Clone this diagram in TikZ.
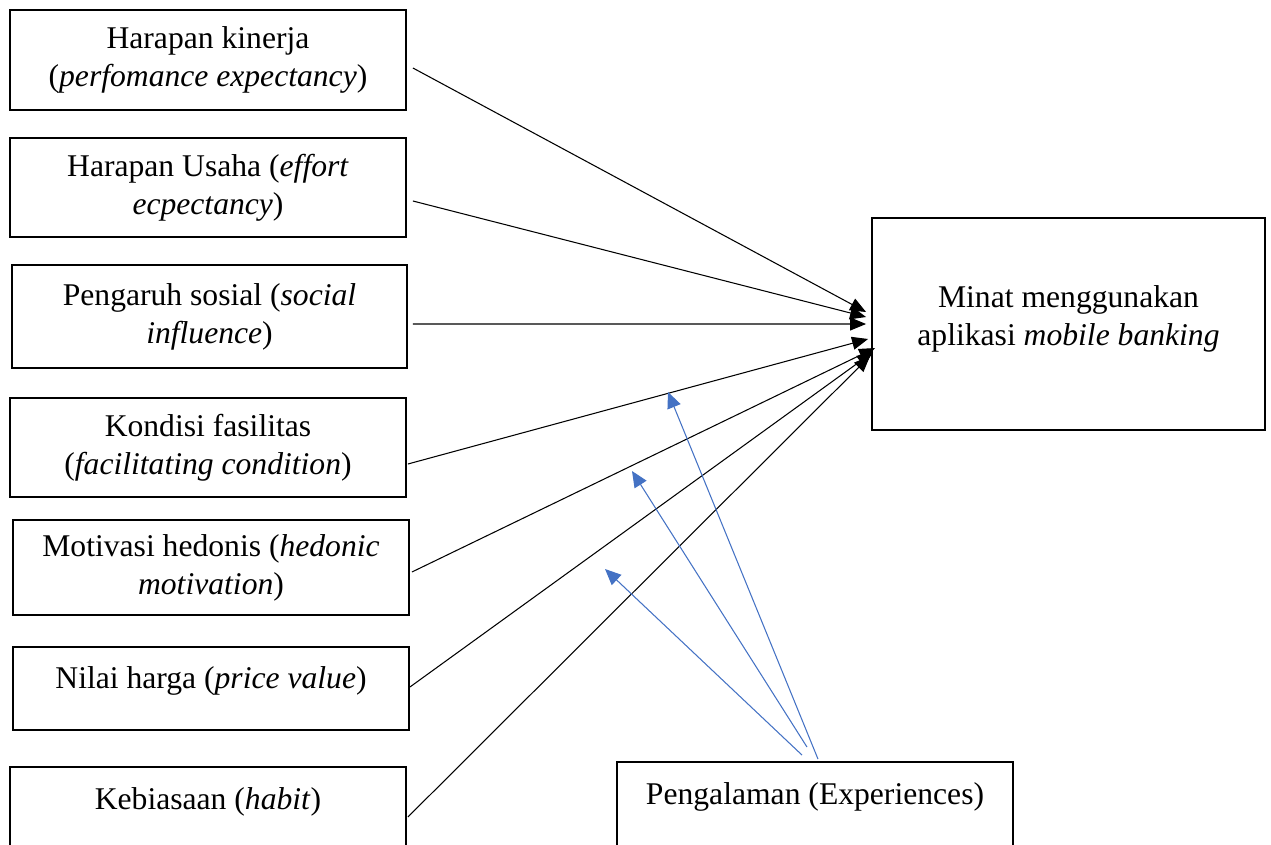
\documentclass[tikz,border=0pt]{standalone}
\usepackage{fontspec}
\setmainfont{Liberation Serif}
\usetikzlibrary{arrows.meta,calc}

\tikzset{
  varbox/.style={draw, line width=1.1pt, minimum width=7.92cm, align=center,
    font=\fontsize{18}{21.6}\selectfont, inner sep=2pt},
  blackarr/.style={line width=0.6pt, -{Triangle[length=0.32cm,width=0.26cm]}},
  bluearr/.style={line width=0.6pt, draw=expblue, -{Triangle[length=0.32cm,width=0.28cm]}}
}
\definecolor{expblue}{RGB}{68,114,196}

\begin{document}
\begin{tikzpicture}[x=0.02cm,y=-0.02cm]
\useasboundingbox (0,0) rectangle (1271,845);

% Independent variables
\node[varbox, minimum height=2cm] (kinerja) at (208,60) {Harapan kinerja\\(\textit{perfomance expectancy})};
\node[varbox, minimum height=1.98cm] (usaha) at (208,187.5) {Harapan Usaha (\textit{effort}\\\textit{ecpectancy})};
\node[varbox, minimum height=2.06cm, minimum width=7.9cm] (sosial) at (209.5,316.5) {Pengaruh sosial (\textit{social}\\\textit{influence})};
\node[varbox, minimum height=1.98cm] (fasilitas) at (208,447.5) {Kondisi fasilitas\\(\textit{facilitating condition})};
\node[varbox, minimum height=1.9cm] (hedonis) at (211,567.5) {Motivasi hedonis (\textit{hedonic}\\\textit{motivation})};
\node[varbox, minimum height=1.66cm] (harga) at (211,688.5) {Nilai harga (\textit{price value})\\[-0.5em]~};
\node[varbox, minimum height=2cm] (habit) at (208,817) {Kebiasaan (\textit{habit})\\~};

% Dependent variable and moderator
\node[varbox, minimum height=4.24cm, minimum width=7.86cm] (minat) at (1068.5,324) {Minat menggunakan\\aplikasi \textit{mobile banking}\\[-12pt]~};
\node[varbox, minimum height=2cm] (pengalaman) at (815,812) {Pengalaman (Experiences)\\~};

% Paths to minat
\draw[blackarr] ($(kinerja.east)+(6,8)$) -- ($(minat.west)+(-5,-12)$);
\draw[blackarr] ($(usaha.east)+(6,13.5)$) -- ($(minat.west)+(-5,-7)$);
\draw[blackarr] ($(sosial.east)+(5,7.5)$) -- ($(minat.west)+(-5,0)$);
\draw[blackarr] ($(fasilitas.east)+(1,16.5)$) -- ($(minat.west)+(-3,15)$);
\draw[blackarr] ($(hedonis.east)+(2,4.5)$) -- ($(minat.west)+(4,24)$);
\draw[blackarr] ($(harga.east)+(0,-1.5)$) -- ($(minat.west)+(2,28)$);
\draw[blackarr] ($(habit.east)+(1,0)$) -- ($(minat.west)+(-1,32)$);

% Moderating effect of experience
\coordinate (modA) at (668,392);
\coordinate (modB) at (632,471);
\coordinate (modC) at (605,569);
\draw[bluearr] ($(pengalaman.north)+(3,-2)$) -- (modA);
\draw[bluearr] ($(pengalaman.north)+(-8,-14)$) -- (modB);
\draw[bluearr] ($(pengalaman.north)+(-13,-6)$) -- (modC);

\end{tikzpicture}
\end{document}
